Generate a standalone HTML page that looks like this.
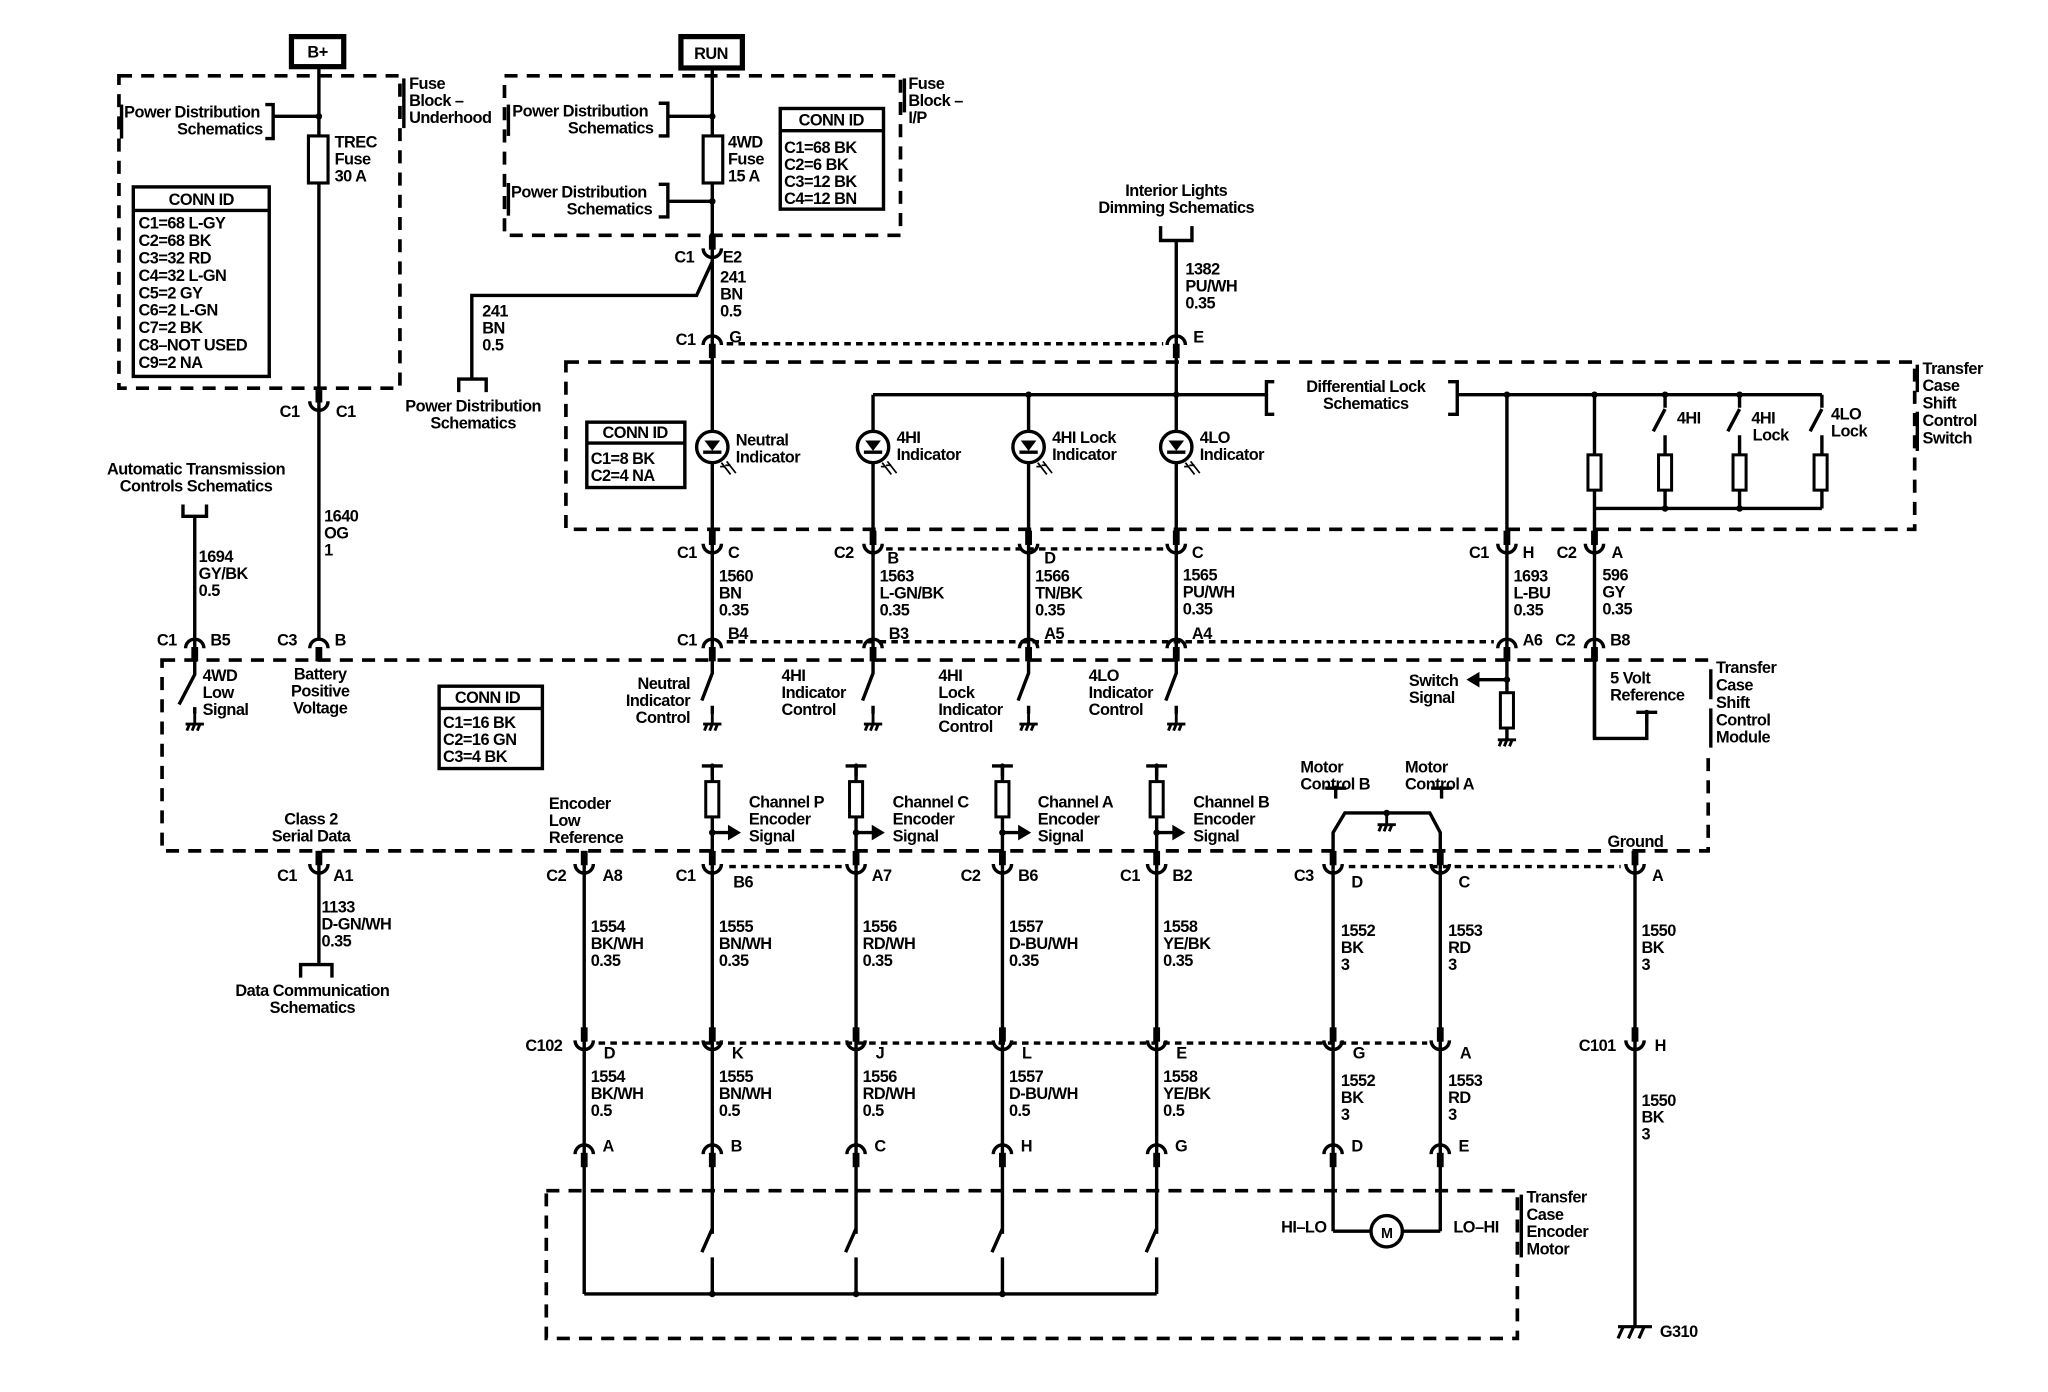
<!DOCTYPE html>
<html><head><meta charset="utf-8"><style>
html,body{margin:0;padding:0;background:#fff;}
svg{display:block;}
.w{stroke:#000;stroke-width:2.6;fill:none;}
.db{stroke:#000;stroke-width:2.8;fill:none;stroke-dasharray:10,7;}
.dt{stroke:#000;stroke-width:2.6;fill:none;stroke-dasharray:5,4;}
text{font-family:"Liberation Sans",sans-serif;font-size:12.5px;font-weight:bold;letter-spacing:-0.4px;fill:#000;}
.m{text-anchor:middle;}
.e{text-anchor:end;}
</style></head><body>
<svg width="2048" height="1392" viewBox="0 0 1567 1065" preserveAspectRatio="none" xmlns="http://www.w3.org/2000/svg">
<defs>
<g id="U"><path d="M-7,-5 A7,7 0 0 0 7,-5" stroke="#000" stroke-width="2.6" fill="none"/><rect x="-2.6" y="-15" width="5.2" height="11" fill="#000"/></g>
<g id="N"><path d="M-7,5 A7,7 0 0 1 7,5" stroke="#000" stroke-width="2.6" fill="none"/><rect x="-2.6" y="4" width="5.2" height="11" fill="#000"/></g>
<g id="G" stroke="#000" stroke-width="2.2" fill="none"><line x1="0" y1="0" x2="0" y2="9"/><line x1="-7" y1="9" x2="7" y2="9"/><line x1="-4" y1="9" x2="-6" y2="14"/><line x1="0" y1="9" x2="-2" y2="14"/><line x1="4" y1="9" x2="2" y2="14"/></g>
<g id="L"><circle r="12" stroke="#000" stroke-width="2.6" fill="#fff"/><path d="M-6,-5 L6,-5 L0,3 Z" fill="#000"/><line x1="-7" y1="4" x2="7" y2="4" stroke="#000" stroke-width="2.6"/><g stroke="#000" stroke-width="1.3"><line x1="7" y1="12" x2="14" y2="21"/><line x1="11" y1="11" x2="18" y2="20"/><line x1="6" y1="15" x2="10" y2="15"/><line x1="10" y1="14" x2="14" y2="14"/></g></g>
<g id="R"><rect x="-5" y="0" width="10" height="27" stroke="#000" stroke-width="2.3" fill="#fff"/></g>
<g id="T" stroke="#000" stroke-width="2.6"><line x1="-8" y1="0" x2="8" y2="0"/><line x1="0" y1="0" x2="0" y2="8"/><circle r="2" fill="#000" stroke="none"/></g>
</defs>

<rect x="223" y="28" width="40" height="23" stroke="#000" stroke-width="4" fill="#fff"/><text x="243" y="44" class="m">B+</text>
<rect x="521" y="28" width="47" height="24" stroke="#000" stroke-width="4" fill="#fff"/><text x="544" y="45" class="m">RUN</text>

<rect x="91" y="58" width="215" height="239" class="db"/>
<line x1="309" y1="60" x2="309" y2="98" class="w" stroke-width="2"/>
<text x="313" y="68">Fuse<tspan x="313" dy="13">Block –</tspan><tspan x="313" dy="13">Underhood</tspan></text>
<line x1="244" y1="52" x2="244" y2="490" class="w"/>
<line x1="93" y1="80" x2="93" y2="106" class="w" stroke-width="2"/>
<text x="95" y="90">Power Distribution</text><text x="201" y="103" class="e">Schematics</text>
<path d="M203,80 H209 V106 H203" class="w"/><line x1="209" y1="89" x2="244" y2="89" class="w"/><circle cx="244" cy="89" r="2.5"/>
<rect x="236" y="104" width="15" height="36" stroke="#000" stroke-width="2.4" fill="#fff"/>
<text x="256" y="113">TREC<tspan x="256" dy="13">Fuse</tspan><tspan x="256" dy="13">30 A</tspan></text>
<rect x="102" y="143" width="104" height="145" stroke="#000" stroke-width="2.6" fill="#fff"/><line x1="102" y1="161" x2="206" y2="161" class="w"/>
<text x="154" y="157" class="m">CONN ID</text>
<text x="106" y="175">C1=68 L-GY<tspan x="106" dy="13.3">C2=68 BK</tspan><tspan x="106" dy="13.3">C3=32 RD</tspan><tspan x="106" dy="13.3">C4=32 L-GN</tspan><tspan x="106" dy="13.3">C5=2 GY</tspan><tspan x="106" dy="13.3">C6=2 L-GN</tspan><tspan x="106" dy="13.3">C7=2 BK</tspan><tspan x="106" dy="13.3">C8–NOT USED</tspan><tspan x="106" dy="13.3">C9=2 NA</tspan></text>
<use href="#U" x="244" y="312"/><text x="214" y="319">C1</text><text x="257" y="319">C1</text>
<text x="248" y="399">1640<tspan x="248" dy="13">OG</tspan><tspan x="248" dy="13">1</tspan></text>
<use href="#N" x="244" y="491"/><text x="212" y="494">C3</text><text x="256" y="494">B</text>

<text x="150" y="363" class="m">Automatic Transmission<tspan x="150" dy="13">Controls Schematics</tspan></text>
<path d="M140,386 V395 H158 V386" class="w"/>
<line x1="149" y1="395" x2="149" y2="505" class="w"/>
<text x="152" y="430">1694<tspan x="152" dy="13">GY/BK</tspan><tspan x="152" dy="13">0.5</tspan></text>
<use href="#N" x="149" y="491"/><text x="120" y="494">C1</text><text x="161" y="494">B5</text>

<rect x="386" y="58" width="303" height="122" class="db"/>
<line x1="692" y1="60" x2="692" y2="86" class="w" stroke-width="2"/>
<text x="695" y="68">Fuse<tspan x="695" dy="13">Block –</tspan><tspan x="695" dy="13">I/P</tspan></text>
<line x1="545" y1="53" x2="545" y2="505" class="w"/>
<line x1="389" y1="80" x2="389" y2="104" class="w" stroke-width="2"/>
<text x="392" y="89">Power Distribution</text><text x="500" y="102" class="e">Schematics</text>
<path d="M504,79 H511 V104 H504" class="w"/><line x1="511" y1="89" x2="545" y2="89" class="w"/><circle cx="545" cy="89" r="2.5"/>
<line x1="389" y1="140" x2="389" y2="165" class="w" stroke-width="2"/>
<text x="391" y="151">Power Distribution</text><text x="499" y="164" class="e">Schematics</text>
<path d="M504,141 H511 V166 H504" class="w"/><line x1="511" y1="154" x2="545" y2="154" class="w"/><circle cx="545" cy="154" r="2.5"/>
<rect x="538" y="104" width="15" height="36" stroke="#000" stroke-width="2.4" fill="#fff"/>
<text x="557" y="113">4WD<tspan x="557" dy="13">Fuse</tspan><tspan x="557" dy="13">15 A</tspan></text>
<rect x="597" y="83" width="79" height="77" stroke="#000" stroke-width="2.6" fill="#fff"/><line x1="597" y1="100" x2="676" y2="100" class="w"/>
<text x="636" y="96" class="m">CONN ID</text>
<text x="600" y="117">C1=68 BK<tspan x="600" dy="13">C2=6 BK</tspan><tspan x="600" dy="13">C3=12 BK</tspan><tspan x="600" dy="13">C4=12 BN</tspan></text>
<use href="#U" x="545" y="195"/><text x="516" y="201">C1</text><text x="553" y="201">E2</text>
<path d="M545,200 L533,226 H361 V290" class="w"/>
<text x="369" y="242">241<tspan x="369" dy="13">BN</tspan><tspan x="369" dy="13">0.5</tspan></text>
<path d="M351,300 V290 H372 V300" class="w"/>
<text x="362" y="315" class="m">Power Distribution<tspan x="362" dy="13">Schematics</tspan></text>
<text x="551" y="216">241<tspan x="551" dy="13">BN</tspan><tspan x="551" dy="13">0.5</tspan></text>
<use href="#N" x="545" y="259"/><text x="517" y="264">C1</text><text x="558" y="262">G</text>
<line x1="556" y1="263" x2="890" y2="263" class="dt"/>

<text x="900" y="150" class="m">Interior Lights<tspan x="900" dy="13">Dimming Schematics</tspan></text>
<path d="M888,173 V184 H912 V173" class="w"/>
<line x1="900" y1="184" x2="900" y2="505" class="w"/>
<text x="907" y="210">1382<tspan x="907" dy="13">PU/WH</tspan><tspan x="907" dy="13">0.35</tspan></text>
<use href="#N" x="900" y="259"/><text x="913" y="262">E</text>

<rect x="433" y="277" width="1032" height="128" class="db"/>
<line x1="1467" y1="279" x2="1467" y2="300" class="w" stroke-width="2"/>
<line x1="1467" y1="315" x2="1467" y2="345" class="w" stroke-width="2"/>
<text x="1471" y="286">Transfer<tspan x="1471" dy="13.3">Case</tspan><tspan x="1471" dy="13.3">Shift</tspan><tspan x="1471" dy="13.3">Control</tspan><tspan x="1471" dy="13.3">Switch</tspan></text>
<line x1="668" y1="302" x2="968" y2="302" class="w"/>
<line x1="668" y1="302" x2="668" y2="505" class="w"/>
<line x1="787" y1="302" x2="787" y2="505" class="w"/>
<circle cx="787" cy="302" r="2.5"/><circle cx="900" cy="302" r="2.5"/>
<path d="M975,292 H969 V317 H975" class="w"/>
<text x="1045" y="300" class="m">Differential Lock<tspan x="1045" dy="13">Schematics</tspan></text>
<path d="M1108,292 H1115 V317 H1108" class="w"/>
<line x1="1115" y1="302" x2="1394" y2="302" class="w"/>
<circle cx="1153" cy="302" r="2.5"/><circle cx="1220" cy="302" r="2.5"/><circle cx="1274" cy="302" r="2.5"/><circle cx="1331" cy="302" r="2.5"/>
<line x1="1153" y1="302" x2="1153" y2="565" class="w"/>
<line x1="1220" y1="302" x2="1220" y2="565" class="w"/>
<use href="#R" x="1220" y="348"/>
<path d="M1274,302 V312 M1265,330 L1274,313 M1274,333 V389" class="w"/><use href="#R" x="1274" y="348"/>
<path d="M1331,302 V312 M1322,330 L1331,313 M1331,333 V389" class="w"/><use href="#R" x="1331" y="348"/>
<path d="M1394,302 V312 M1385,330 L1394,313 M1394,333 V389" class="w"/><use href="#R" x="1393" y="348"/>
<line x1="1220" y1="389" x2="1394" y2="389" class="w"/><circle cx="1274" cy="389" r="2.5"/><circle cx="1331" cy="389" r="2.5"/>
<text x="1283" y="324">4HI</text>
<text x="1340" y="324">4HI<tspan x="1341" dy="13">Lock</tspan></text>
<text x="1401" y="321">4LO<tspan x="1401" dy="13">Lock</tspan></text>
<use href="#L" x="545" y="342"/><use href="#L" x="668" y="342"/><use href="#L" x="787" y="342"/><use href="#L" x="900" y="342"/>
<text x="563" y="341">Neutral<tspan x="563" dy="13">Indicator</tspan></text>
<text x="686" y="339">4HI<tspan x="686" dy="13">Indicator</tspan></text>
<text x="805" y="339">4HI Lock<tspan x="805" dy="13">Indicator</tspan></text>
<text x="918" y="339">4LO<tspan x="918" dy="13">Indicator</tspan></text>
<rect x="449" y="323" width="75" height="50" stroke="#000" stroke-width="2.6" fill="#fff"/><line x1="449" y1="339" x2="524" y2="339" class="w"/>
<text x="486" y="335" class="m">CONN ID</text>
<text x="452" y="355">C1=8 BK<tspan x="452" dy="13">C2=4 NA</tspan></text>

<use href="#U" x="545" y="421"/><text x="518" y="427">C1</text><text x="557" y="427">C</text>
<use href="#U" x="668" y="421"/><text x="638" y="427">C2</text><text x="679" y="431">B</text>
<use href="#U" x="787" y="421"/><text x="799" y="431">D</text>
<use href="#U" x="900" y="421"/><text x="912" y="427">C</text>
<line x1="678" y1="420" x2="890" y2="420" class="dt"/>
<use href="#U" x="1153" y="421"/><text x="1124" y="427">C1</text><text x="1165" y="427">H</text>
<use href="#U" x="1220" y="421"/><text x="1191" y="427">C2</text><text x="1233" y="427">A</text>
<text x="550" y="445">1560<tspan x="550" dy="13">BN</tspan><tspan x="550" dy="13">0.35</tspan></text>
<text x="673" y="445">1563<tspan x="673" dy="13">L-GN/BK</tspan><tspan x="673" dy="13">0.35</tspan></text>
<text x="792" y="445">1566<tspan x="792" dy="13">TN/BK</tspan><tspan x="792" dy="13">0.35</tspan></text>
<text x="905" y="444">1565<tspan x="905" dy="13">PU/WH</tspan><tspan x="905" dy="13">0.35</tspan></text>
<text x="1158" y="445">1693<tspan x="1158" dy="13">L-BU</tspan><tspan x="1158" dy="13">0.35</tspan></text>
<text x="1226" y="444">596<tspan x="1226" dy="13">GY</tspan><tspan x="1226" dy="13">0.35</tspan></text>
<use href="#N" x="545" y="491"/><text x="518" y="494">C1</text><text x="557" y="489">B4</text>
<use href="#N" x="668" y="491"/><text x="680" y="489">B3</text>
<use href="#N" x="787" y="491"/><text x="799" y="489">A5</text>
<use href="#N" x="900" y="491"/><text x="912" y="489">A4</text>
<use href="#N" x="1153" y="491"/><text x="1165" y="494">A6</text>
<use href="#N" x="1220" y="491"/><text x="1190" y="494">C2</text><text x="1232" y="494">B8</text>
<line x1="556" y1="491" x2="1143" y2="491" class="dt"/>

<rect x="124" y="505" width="1183" height="146" class="db"/>
<rect x="1300" y="508" width="12" height="70" fill="#fff"/>
<line x1="1309" y1="512" x2="1309" y2="535" class="w" stroke-width="2"/>
<line x1="1309" y1="542" x2="1309" y2="572" class="w" stroke-width="2"/>
<text x="1313" y="515">Transfer<tspan x="1313" dy="13.3">Case</tspan><tspan x="1313" dy="13.3">Shift</tspan><tspan x="1313" dy="13.3">Control</tspan><tspan x="1313" dy="13.3">Module</tspan></text>
<path d="M149,505 V516 L137,539 M149,541 V546" class="w"/><use href="#G" x="149" y="545"/>
<text x="155" y="521">4WD<tspan x="155" dy="13">Low</tspan><tspan x="155" dy="13">Signal</tspan></text>
<text x="245" y="520" class="m">Battery<tspan x="245" dy="13">Positive</tspan><tspan x="245" dy="13">Voltage</tspan></text>
<rect x="336" y="525" width="79" height="63" stroke="#000" stroke-width="2.6" fill="#fff"/><line x1="336" y1="542" x2="415" y2="542" class="w"/>
<text x="373" y="538" class="m">CONN ID</text>
<text x="339" y="557">C1=16 BK<tspan x="339" dy="13">C2=16 GN</tspan><tspan x="339" dy="13">C3=4 BK</tspan></text>
<path d="M545,505 V515 L537,536 M545,540 V546" class="w"/><use href="#G" x="545" y="545"/>
<path d="M668,505 V515 L660,536 M668,540 V546" class="w"/><use href="#G" x="668" y="545"/>
<path d="M787,505 V515 L779,536 M787,540 V546" class="w"/><use href="#G" x="787" y="545"/>
<path d="M900,505 V515 L892,536 M900,540 V546" class="w"/><use href="#G" x="900" y="545"/>
<text x="528" y="527" class="e">Neutral<tspan x="528" dy="13">Indicator</tspan><tspan x="528" dy="13">Control</tspan></text>
<text x="598" y="521">4HI<tspan x="598" dy="13">Indicator</tspan><tspan x="598" dy="13">Control</tspan></text>
<text x="718" y="521">4HI<tspan x="718" dy="13">Lock</tspan><tspan x="718" dy="13">Indicator</tspan><tspan x="718" dy="13">Control</tspan></text>
<text x="833" y="521">4LO<tspan x="833" dy="13">Indicator</tspan><tspan x="833" dy="13">Control</tspan></text>
<circle cx="1153" cy="520" r="2.5"/><line x1="1153" y1="520" x2="1130" y2="520" class="w"/><path d="M1122,520 L1132,514 L1132,526 Z"/>
<text x="1078" y="525">Switch<tspan x="1078" dy="13">Signal</tspan></text>
<use href="#R" x="1153" y="530"/><use href="#G" x="1153" y="557"/>
<path d="M1220,505 V565 H1260 V545" class="w"/><use href="#T" x="1260" y="545"/>
<text x="1232" y="523">5 Volt<tspan x="1232" dy="13">Reference</tspan></text>
<g>
<line x1="545" y1="586" x2="545" y2="665" class="w"/><use href="#T" x="545" y="586"/><use href="#R" x="545" y="598"/><circle cx="545" cy="637" r="2.5"/><line x1="545" y1="637" x2="560" y2="637" class="w"/><path d="M567,637 L557,631 L557,643 Z"/>
<line x1="655" y1="586" x2="655" y2="665" class="w"/><use href="#T" x="655" y="586"/><use href="#R" x="655" y="598"/><circle cx="655" cy="637" r="2.5"/><line x1="655" y1="637" x2="670" y2="637" class="w"/><path d="M677,637 L667,631 L667,643 Z"/>
<line x1="767" y1="586" x2="767" y2="665" class="w"/><use href="#T" x="767" y="586"/><use href="#R" x="767" y="598"/><circle cx="767" cy="637" r="2.5"/><line x1="767" y1="637" x2="782" y2="637" class="w"/><path d="M789,637 L779,631 L779,643 Z"/>
<line x1="885" y1="586" x2="885" y2="665" class="w"/><use href="#T" x="885" y="586"/><use href="#R" x="885" y="598"/><circle cx="885" cy="637" r="2.5"/><line x1="885" y1="637" x2="900" y2="637" class="w"/><path d="M907,637 L897,631 L897,643 Z"/>
</g>
<text x="573" y="618">Channel P<tspan x="573" dy="13">Encoder</tspan><tspan x="573" dy="13">Signal</tspan></text>
<text x="683" y="618">Channel C<tspan x="683" dy="13">Encoder</tspan><tspan x="683" dy="13">Signal</tspan></text>
<text x="794" y="618">Channel A<tspan x="794" dy="13">Encoder</tspan><tspan x="794" dy="13">Signal</tspan></text>
<text x="913" y="618">Channel B<tspan x="913" dy="13">Encoder</tspan><tspan x="913" dy="13">Signal</tspan></text>
<text x="420" y="619">Encoder<tspan x="420" dy="13">Low</tspan><tspan x="420" dy="13">Reference</tspan></text>
<text x="238" y="631" class="m">Class 2<tspan x="238" dy="13">Serial Data</tspan></text>
<text x="995" y="591">Motor<tspan x="995" dy="13">Control B</tspan></text>
<text x="1075" y="591">Motor<tspan x="1075" dy="13">Control A</tspan></text>
<use href="#T" x="1022" y="603"/><use href="#T" x="1103" y="603"/>
<path d="M1020,665 V637 L1029,622 H1094 L1102,637 V665" class="w"/>
<circle cx="1061" cy="622" r="2.5"/><use href="#G" x="1061" y="622"/>
<text x="1230" y="648">Ground</text>
<line x1="1251" y1="651" x2="1251" y2="1015" class="w"/>

<line x1="244" y1="651" x2="244" y2="738" class="w"/>
<use href="#U" x="244" y="666"/><text x="212" y="674">C1</text><text x="255" y="674">A1</text>
<text x="246" y="698">1133<tspan x="246" dy="13">D-GN/WH</tspan><tspan x="246" dy="13">0.35</tspan></text>
<path d="M230,748 V738 H254 V748" class="w"/>
<text x="239" y="762" class="m">Data Communication<tspan x="239" dy="13">Schematics</tspan></text>
<line x1="447" y1="651" x2="447" y2="990" class="w"/>
<line x1="545" y1="665" x2="545" y2="950" class="w"/>
<line x1="655" y1="665" x2="655" y2="950" class="w"/>
<line x1="767" y1="665" x2="767" y2="950" class="w"/>
<line x1="885" y1="665" x2="885" y2="950" class="w"/>
<line x1="1020" y1="665" x2="1020" y2="942" class="w"/>
<line x1="1102" y1="665" x2="1102" y2="942" class="w"/>
<use href="#U" x="447" y="666"/><text x="418" y="674">C2</text><text x="461" y="674">A8</text>
<use href="#U" x="545" y="666"/><text x="517" y="674">C1</text><text x="561" y="679">B6</text>
<use href="#U" x="655" y="666"/><text x="667" y="674">A7</text>
<use href="#U" x="767" y="666"/><text x="735" y="674">C2</text><text x="779" y="674">B6</text>
<use href="#U" x="885" y="666"/><text x="857" y="674">C1</text><text x="897" y="674">B2</text>
<use href="#U" x="1020" y="666"/><text x="990" y="674">C3</text><text x="1034" y="679">D</text>
<use href="#U" x="1102" y="666"/><text x="1116" y="679">C</text>
<use href="#U" x="1251" y="666"/><text x="1264" y="674">A</text>
<line x1="558" y1="663" x2="645" y2="663" class="dt"/>
<line x1="1032" y1="663" x2="1240" y2="663" class="dt"/>
<text x="452" y="713">1554<tspan x="452" dy="13">BK/WH</tspan><tspan x="452" dy="13">0.35</tspan></text>
<text x="550" y="713">1555<tspan x="550" dy="13">BN/WH</tspan><tspan x="550" dy="13">0.35</tspan></text>
<text x="660" y="713">1556<tspan x="660" dy="13">RD/WH</tspan><tspan x="660" dy="13">0.35</tspan></text>
<text x="772" y="713">1557<tspan x="772" dy="13">D-BU/WH</tspan><tspan x="772" dy="13">0.35</tspan></text>
<text x="890" y="713">1558<tspan x="890" dy="13">YE/BK</tspan><tspan x="890" dy="13">0.35</tspan></text>
<text x="1026" y="716">1552<tspan x="1026" dy="13">BK</tspan><tspan x="1026" dy="13">3</tspan></text>
<text x="1108" y="716">1553<tspan x="1108" dy="13">RD</tspan><tspan x="1108" dy="13">3</tspan></text>
<text x="1256" y="716">1550<tspan x="1256" dy="13">BK</tspan><tspan x="1256" dy="13">3</tspan></text>

<use href="#U" x="447" y="801"/><use href="#U" x="545" y="801"/><use href="#U" x="655" y="801"/><use href="#U" x="767" y="801"/><use href="#U" x="885" y="801"/><use href="#U" x="1020" y="801"/><use href="#U" x="1102" y="801"/><use href="#U" x="1251" y="801"/>
<line x1="458" y1="798" x2="1092" y2="798" class="dt"/>
<text x="402" y="804">C102</text><text x="462" y="810">D</text><text x="560" y="810">K</text><text x="670" y="810">J</text><text x="782" y="810">L</text><text x="900" y="810">E</text><text x="1035" y="810">G</text><text x="1117" y="810">A</text>
<text x="1208" y="804">C101</text><text x="1266" y="804">H</text>
<text x="452" y="828">1554<tspan x="452" dy="13">BK/WH</tspan><tspan x="452" dy="13">0.5</tspan></text>
<text x="550" y="828">1555<tspan x="550" dy="13">BN/WH</tspan><tspan x="550" dy="13">0.5</tspan></text>
<text x="660" y="828">1556<tspan x="660" dy="13">RD/WH</tspan><tspan x="660" dy="13">0.5</tspan></text>
<text x="772" y="828">1557<tspan x="772" dy="13">D-BU/WH</tspan><tspan x="772" dy="13">0.5</tspan></text>
<text x="890" y="828">1558<tspan x="890" dy="13">YE/BK</tspan><tspan x="890" dy="13">0.5</tspan></text>
<text x="1026" y="831">1552<tspan x="1026" dy="13">BK</tspan><tspan x="1026" dy="13">3</tspan></text>
<text x="1108" y="831">1553<tspan x="1108" dy="13">RD</tspan><tspan x="1108" dy="13">3</tspan></text>
<text x="1256" y="846">1550<tspan x="1256" dy="13">BK</tspan><tspan x="1256" dy="13">3</tspan></text>

<use href="#N" x="447" y="878"/><text x="461" y="881">A</text>
<use href="#N" x="545" y="878"/><text x="559" y="881">B</text>
<use href="#N" x="655" y="878"/><text x="669" y="881">C</text>
<use href="#N" x="767" y="878"/><text x="781" y="881">H</text>
<use href="#N" x="885" y="878"/><text x="899" y="881">G</text>
<use href="#N" x="1020" y="878"/><text x="1034" y="881">D</text>
<use href="#N" x="1102" y="878"/><text x="1116" y="881">E</text>

<rect x="418" y="911" width="743" height="113" class="db"/>
<line x1="1164" y1="914" x2="1164" y2="962" class="w" stroke-width="2"/>
<text x="1168" y="920">Transfer<tspan x="1168" dy="13.3">Case</tspan><tspan x="1168" dy="13.3">Encoder</tspan><tspan x="1168" dy="13.3">Motor</tspan></text>
<rect x="540" y="944" width="10" height="17" fill="#fff"/><rect x="650" y="944" width="10" height="17" fill="#fff"/><rect x="762" y="944" width="10" height="17" fill="#fff"/><rect x="880" y="944" width="10" height="17" fill="#fff"/>
<path d="M545,940 L537,958 M545,962 V990" class="w"/>
<path d="M655,940 L647,958 M655,962 V990" class="w"/>
<path d="M767,940 L759,958 M767,962 V990" class="w"/>
<path d="M885,940 L877,958 M885,962 V990" class="w"/>
<line x1="447" y1="990" x2="885" y2="990" class="w"/>
<circle cx="545" cy="990" r="2.5"/><circle cx="655" cy="990" r="2.5"/><circle cx="767" cy="990" r="2.5"/>
<path d="M1020,942 H1048 M1074,942 H1102" class="w"/>
<circle cx="1061" cy="942" r="12" stroke="#000" stroke-width="2.6" fill="#fff"/><text x="1061" y="947" class="m" style="font-size:11px">M</text>
<text x="1015" y="943" class="e">HI–LO</text><text x="1112" y="943">LO–HI</text>
<g stroke="#000" stroke-width="2.4"><line x1="1238" y1="1015" x2="1264" y2="1015"/><line x1="1242" y1="1015" x2="1238" y2="1024"/><line x1="1250" y1="1015" x2="1246" y2="1024"/><line x1="1258" y1="1015" x2="1254" y2="1024"/></g>
<text x="1270" y="1023">G310</text>
</svg>
</body></html>
